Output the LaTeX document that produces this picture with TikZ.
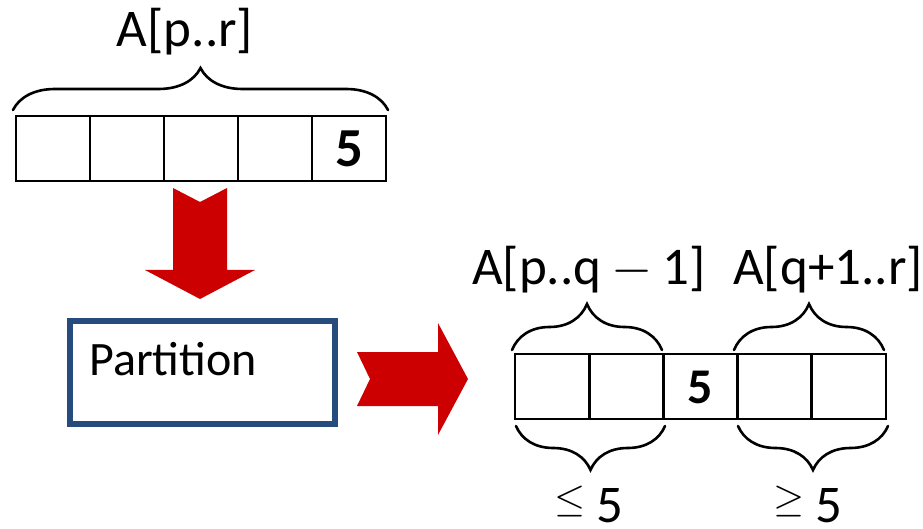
\RequirePackage{fix-cm}
\documentclass[tikz,border=0pt]{standalone}
\usepackage{fontspec}
\setmainfont{Carlito}
\usetikzlibrary{decorations.pathreplacing}
\definecolor{arrowred}{RGB}{204,0,0}
\definecolor{boxblue}{RGB}{38,76,126}
\newcommand{\relsym}[1]{\raisebox{11pt}{\fontsize{40}{40}\selectfont$#1$}}
\tikzset{
  cell/.style={draw=black, line width=2.8pt, minimum width=74pt, minimum height=65pt,
               inner sep=0pt, outer sep=0pt},
  big/.style={font=\fontsize{53}{55}\selectfont, inner sep=0pt},
  bignum/.style={font=\bfseries\fontsize{#1}{#1}\selectfont, inner sep=0pt},
  curly/.style={decorate, decoration={brace, amplitude=#1}, line width=2.6pt, line cap=round},
  fatarrow/.style={fill=arrowred, draw=none},
  procbox/.style={draw=boxblue, line width=6pt, minimum width=265pt, minimum height=103pt,
                  inner sep=0pt, outer sep=0pt}
}
\begin{document}
\begin{tikzpicture}[x=1pt,y=-1pt]
\useasboundingbox (0,0) rectangle (923,529);

% input array A[p..r]
\foreach \i in {0,...,4} {
  \node[cell, anchor=north west] (t\i) at ({16+74*\i},116) {};
}
\node[bignum=55, anchor=base] (tfive) at (t4.center |- 0,167) {5};
\draw[curly=42pt] (13,110) -- (388,110);
\node[big, anchor=base] (lab) at (185,47) {A[p..r]};

% arrow down to the procedure
\fill[fatarrow] (173,188) -- (200,202) -- (227,188) -- (227,270) -- (255,270)
   -- (200,299) -- (145,270) -- (173,270) -- cycle;

% the Partition procedure
\node[procbox, anchor=north west] (part) at (70,321) {};
\node[big, anchor=base west, font=\fontsize{48}{50}\selectfont] (ptxt) at (89,375) {Partition};

% arrow to the result
\fill[fatarrow] (357,352) -- (438,352) -- (438,323) -- (468,379) -- (438,435)
   -- (438,406) -- (357,406) -- (370,379) -- cycle;

% partitioned array
\foreach \i in {0,...,4} {
  \node[cell, minimum width=74.2pt, anchor=north west] (r\i) at ({515+74.2*\i},354) {};
}
\node[bignum=50, anchor=base] (rfive) at (r2.center |- 0,403) {5};

% braces and labels for the two parts
\draw[curly=46pt] (512,350) -- (662,350);
\draw[curly=46pt] (734,350) -- (884,350);
\draw[curly=44pt] (665,426) -- (516,426);
\draw[curly=44pt] (888,426) -- (738,426);

\node[big, anchor=base] (lowlab) at (589,284) {A[p..q\hspace{10pt}$-$\hspace{10pt}1]};
\node[big, anchor=base] (highlab) at (828,284) {A[q+1..r]};
\node[big, anchor=base] (le) at (589,522) {\relsym{\leq}\hspace{11pt}5};
\node[big, anchor=base] (ge) at (808,522) {\relsym{\geq}\hspace{11pt}5};
\end{tikzpicture}
\end{document}
